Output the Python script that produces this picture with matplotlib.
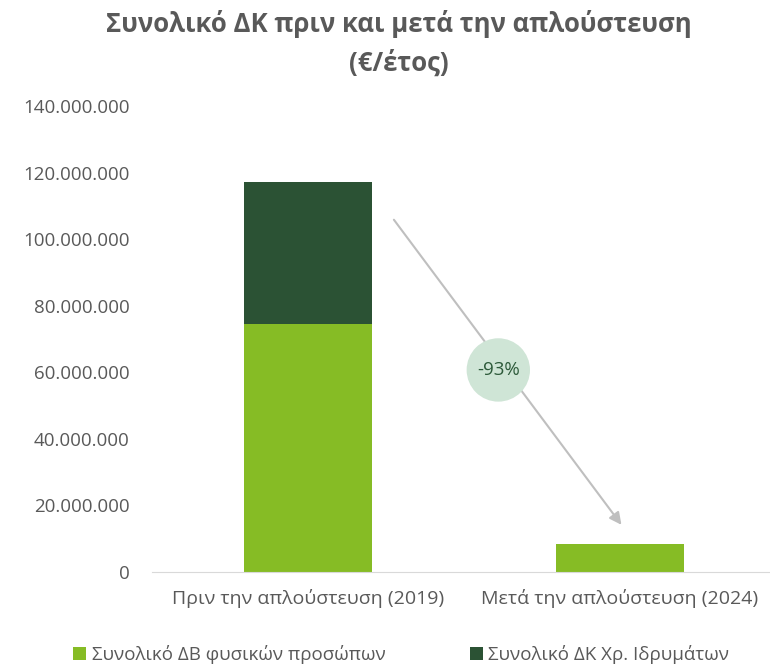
import matplotlib
matplotlib.use("Agg")
import matplotlib.pyplot as plt
from matplotlib.ticker import FuncFormatter

plt.rcParams['font.family'] = ['Open Sans', 'DejaVu Sans']

categories = ['Πριν την απλούστευση (2019)', 'Μετά την απλούστευση (2024)']
natural_persons = [74500000, 8400000]
credit_institutions = [42700000, 0]
series_names = ['Συνολικό ΔΒ φυσικών προσώπων', 'Συνολικό ΔΚ Χρ. Ιδρυμάτων']
change_label = '-93%'

light_green = '#86bc25'
dark_green = '#2b5234'
gray_text = '#595959'

fig = plt.figure(figsize=(7.7, 6.68), dpi=100)
ax = fig.add_axes([152 / 770, 96 / 668, 624 / 770, 466 / 668])

x = range(len(categories))
ax.bar(x, natural_persons, width=0.41, color=light_green, label=series_names[0])
ax.bar(x, credit_institutions, width=0.41, bottom=natural_persons, color=dark_green, label=series_names[1])

ax.set_xlim(-0.5, 1.5)
ax.set_ylim(0, 140000000)
ax.set_yticks(range(0, 140000001, 20000000))
ax.yaxis.set_major_formatter(FuncFormatter(lambda v, p: f'{int(v):,}'.replace(',', '.')))
ax.set_xticks(list(x))
ax.set_xticklabels(categories)
ax.tick_params(axis='y', length=0, labelsize=13.5, colors=gray_text, pad=16)
ax.tick_params(axis='x', length=0, labelsize=14, colors=gray_text, pad=12)

for s in ['top', 'right', 'left']:
    ax.spines[s].set_visible(False)
ax.spines['bottom'].set_color('#d9d9d9')

# arrow showing the drop
ax.annotate('', xy=(1.01, 13500000), xytext=(0.27, 106500000),
            arrowprops=dict(arrowstyle='-|>', color='#bfbfbf', lw=1.5, mutation_scale=18))
ax.text(0.61, 60700000, change_label, ha='center', va='center', fontsize=13.5, color='#2d5a3a',
        bbox=dict(boxstyle='circle,pad=0.55', fc='#cfe5d6', ec='none'))

fig.text(0.518, 0.985, 'Συνολικό ΔΚ πριν και μετά την απλούστευση\n(€/έτος)', ha='center', va='top',
         fontsize=18.5, fontweight='bold', color=gray_text, linespacing=1.55)

fig.legend(loc='lower center', bbox_to_anchor=(0.521, -0.02), ncol=2, frameon=False, fontsize=13.5,
           labelcolor=gray_text, handlelength=0.7, handleheight=0.7, handletextpad=0.3, columnspacing=4.5)

fig.savefig('out.png', dpi=100)
